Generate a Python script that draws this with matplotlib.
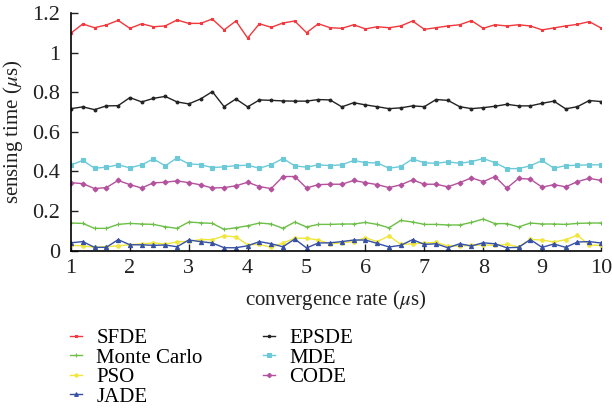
import numpy as np
import matplotlib
matplotlib.use('Agg')
import matplotlib.pyplot as plt

# convergence rate axis: one sample every 0.2 us from 1 to 10
conv_rate = np.linspace(1, 10, 46)

sfde = [1.099, 1.145, 1.126, 1.140, 1.163, 1.123, 1.146, 1.131, 1.135, 1.165, 1.148, 1.148,
        1.170, 1.115, 1.160, 1.074, 1.146, 1.128, 1.150, 1.160, 1.101, 1.146, 1.126,
        1.123, 1.141, 1.120, 1.131, 1.126, 1.135, 1.160, 1.118, 1.126, 1.135, 1.141, 1.162,
        1.123, 1.141, 1.135, 1.141, 1.135, 1.115, 1.125, 1.135, 1.143, 1.157, 1.125]
monte_carlo = [0.139, 0.137, 0.112, 0.112, 0.132, 0.137, 0.134, 0.132, 0.120, 0.112, 0.144, 0.140,
               0.137, 0.107, 0.115, 0.125, 0.139, 0.134, 0.112, 0.144, 0.119, 0.132, 0.132,
               0.134, 0.134, 0.142, 0.132, 0.115, 0.152, 0.144, 0.132, 0.132, 0.129, 0.129, 0.142,
               0.159, 0.136, 0.136, 0.119, 0.139, 0.134, 0.134, 0.132, 0.137, 0.139, 0.139]
pso = [0.026, 0.024, 0.016, 0.019, 0.024, 0.029, 0.034, 0.038, 0.033, 0.043, 0.047, 0.055,
       0.055, 0.074, 0.069, 0.029, 0.031, 0.016, 0.038, 0.062, 0.062, 0.053, 0.033,
       0.039, 0.045, 0.064, 0.045, 0.074, 0.031, 0.034, 0.038, 0.041, 0.023, 0.023, 0.026,
       0.028, 0.026, 0.031, 0.018, 0.056, 0.053, 0.043, 0.055, 0.077, 0.028, 0.026]
jade = [0.039, 0.045, 0.016, 0.016, 0.055, 0.029, 0.029, 0.026, 0.028, 0.019, 0.053, 0.045,
        0.038, 0.014, 0.014, 0.024, 0.045, 0.034, 0.019, 0.058, 0.013, 0.038, 0.039,
        0.045, 0.053, 0.053, 0.036, 0.018, 0.026, 0.055, 0.031, 0.034, 0.014, 0.034, 0.023,
        0.039, 0.034, 0.014, 0.016, 0.055, 0.016, 0.033, 0.016, 0.043, 0.045, 0.038]
epsde = [0.717, 0.726, 0.712, 0.731, 0.732, 0.773, 0.751, 0.769, 0.779, 0.751, 0.741, 0.766,
         0.803, 0.727, 0.766, 0.726, 0.761, 0.759, 0.756, 0.755, 0.755, 0.763, 0.761,
         0.726, 0.747, 0.736, 0.727, 0.717, 0.721, 0.731, 0.727, 0.763, 0.759, 0.727, 0.717,
         0.722, 0.729, 0.739, 0.731, 0.731, 0.744, 0.755, 0.716, 0.727, 0.758, 0.753]
mde = [0.433, 0.455, 0.416, 0.421, 0.433, 0.418, 0.433, 0.463, 0.428, 0.468, 0.438, 0.434,
       0.419, 0.423, 0.429, 0.431, 0.416, 0.434, 0.465, 0.428, 0.421, 0.433, 0.429,
       0.433, 0.455, 0.444, 0.443, 0.416, 0.424, 0.463, 0.443, 0.441, 0.448, 0.441, 0.449,
       0.465, 0.444, 0.414, 0.414, 0.428, 0.455, 0.416, 0.429, 0.431, 0.433, 0.433]
code = [0.343, 0.338, 0.313, 0.318, 0.354, 0.333, 0.316, 0.342, 0.345, 0.352, 0.343, 0.332,
        0.316, 0.318, 0.327, 0.345, 0.323, 0.313, 0.374, 0.374, 0.316, 0.333, 0.335,
        0.335, 0.354, 0.343, 0.333, 0.318, 0.332, 0.357, 0.335, 0.335, 0.322, 0.343, 0.367,
        0.348, 0.374, 0.315, 0.364, 0.361, 0.320, 0.333, 0.322, 0.348, 0.365, 0.354]

x_ticks = [1, 2, 3, 4, 5, 6, 7, 8, 9, 10]
y_ticks = [0, 0.2, 0.4, 0.6, 0.8, 1, 1.2]

plt.rcParams['font.family'] = ['Liberation Serif', 'DejaVu Serif']
plt.rcParams['mathtext.fontset'] = 'stix'
plt.rcParams['font.size'] = 15

fig = plt.figure(figsize=(6.12, 4.09), dpi=100)
ax = fig.add_axes([0.116, 0.3875, 0.866, 0.5805])

series = [
    ('SFDE', sfde, '#f2383d', 's', 2.0),
    ('Monte Carlo', monte_carlo, '#6cbf47', '+', 3.0),
    ('PSO', pso, '#f0e63c', 'o', 2.5),
    ('JADE', jade, '#3650a5', '^', 3.0),
    ('EPSDE', epsde, '#222222', 'o', 2.0),
    ('MDE', mde, '#6ccad8', 's', 2.5),
    ('CODE', code, '#b4509e', 'D', 2.5),
]
for name, vals, col, mk, ms in series:
    ax.plot(conv_rate, vals, color=col, marker=mk, markersize=ms, linewidth=1,
            markeredgewidth=0.8, label=name)

ax.set_xlim(1, 10)
ax.set_ylim(0, 1.2)
ax.set_xticks(x_ticks)
ax.set_yticks(y_ticks)
ax.set_yticklabels(['%g' % v for v in y_ticks])
ax.tick_params(direction='in', length=5, width=1, colors='#222222', labelcolor='#222222',
               labelsize=16)
ax.tick_params(axis='x', pad=6)
ax.tick_params(axis='y', pad=8)
ax.spines['top'].set_visible(False)
ax.spines['right'].set_visible(False)
ax.spines['left'].set_linewidth(1.2)
ax.spines['bottom'].set_linewidth(1.2)
ax.set_xlabel(r'convergence rate ($\mu$s)', labelpad=7, color='#222222')
ax.set_ylabel(r'sensing time ($\mu$s)', labelpad=5, color='#222222')

fig.legend(loc='upper left', bbox_to_anchor=(60 / 612, 1 - 318 / 409), ncol=2,
           frameon=False, handlelength=0.55, handletextpad=0.7, columnspacing=2.9,
           labelspacing=0.0, borderpad=0, markerscale=0.9)

fig.savefig('out.png', dpi=100)
